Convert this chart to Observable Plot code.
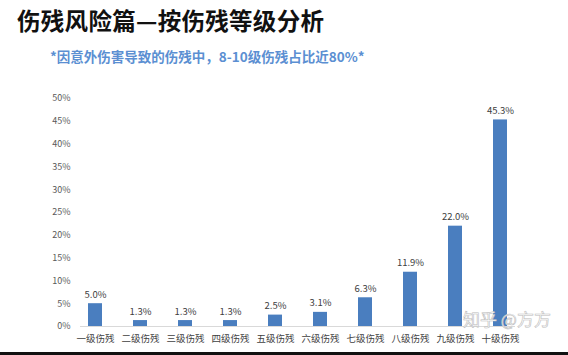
<!DOCTYPE html>
<html><head><meta charset="utf-8">
<script src="https://cdn.jsdelivr.net/npm/d3@7"></script>
<script src="https://cdn.jsdelivr.net/npm/@observablehq/plot@0.6"></script>
<style>
html,body{margin:0;padding:0;background:#fff;}
#wrap{position:relative;width:568px;height:355px;overflow:hidden;font-family:"Noto Sans CJK SC","Noto Sans",sans-serif;}
#title{position:absolute;left:17px;top:3px;font-size:23.5px;font-weight:bold;color:#111;letter-spacing:0.3px;}
#sub{position:absolute;left:50px;top:46px;font-size:13.5px;font-weight:bold;color:#5b8fd2;}
#chart{position:absolute;left:0;top:85px;}
#wm{position:absolute;left:463px;top:309px;font-size:17px;line-height:20px;color:#fff;-webkit-text-stroke:0.6px #bbb;}
#bl{position:absolute;left:0;top:352px;width:568px;height:3px;background:#111;}
</style></head>
<body><div id="wrap">
<div id="title">伤残风险篇—按伤残等级分析</div>
<div id="sub">*因意外伤害导致的伤残中，8-10级伤残占比近80%*</div>
<div id="chart"></div>
<div id="wm">知乎 @方方</div>
<div id="bl"></div>
</div>
<script>
const categories = ["一级伤残","二级伤残","三级伤残","四级伤残","五级伤残","六级伤残","七级伤残","八级伤残","九级伤残","十级伤残"];
const values = [5.0,1.3,1.3,1.3,2.5,3.1,6.3,11.9,22.0,45.3];
const yTicks = [0,5,10,15,20,25,30,35,40,45,50];
const data = categories.map((c,i)=>({cat:c, v:values[i]}));
const chart = Plot.plot({
  width:568, height:269,
  marginTop:13, marginBottom:28, marginLeft:80, marginRight:53,
  style:{fontFamily:'"Noto Sans CJK SC","Noto Sans",sans-serif', fontSize:"9px", color:"#595959"},
  x:{domain:categories, paddingInner:0.68, paddingOuter:0.16, label:null},
  y:{domain:[0,50], label:null},
  marks:[
    Plot.ruleY([0],{stroke:"#d9d9d9"}),
    Plot.barY(data,{x:"cat", y:"v", fill:"#4a7ebf"}),
    Plot.text(data,{x:"cat", y:"v", text:d=>d.v.toFixed(1)+"%", dy:-9, fill:"#404040", fontSize:9.5}),
    Plot.axisY({ticks:yTicks, tickFormat:d=>d+"%", tickSize:0, tickPadding:10, fill:"#595959", fontSize:9}),
    Plot.axisX({tickSize:0, tickPadding:9, fill:"#404040", fontSize:9.5})
  ]
});
document.getElementById("chart").appendChild(chart);
</script>
</body></html>
